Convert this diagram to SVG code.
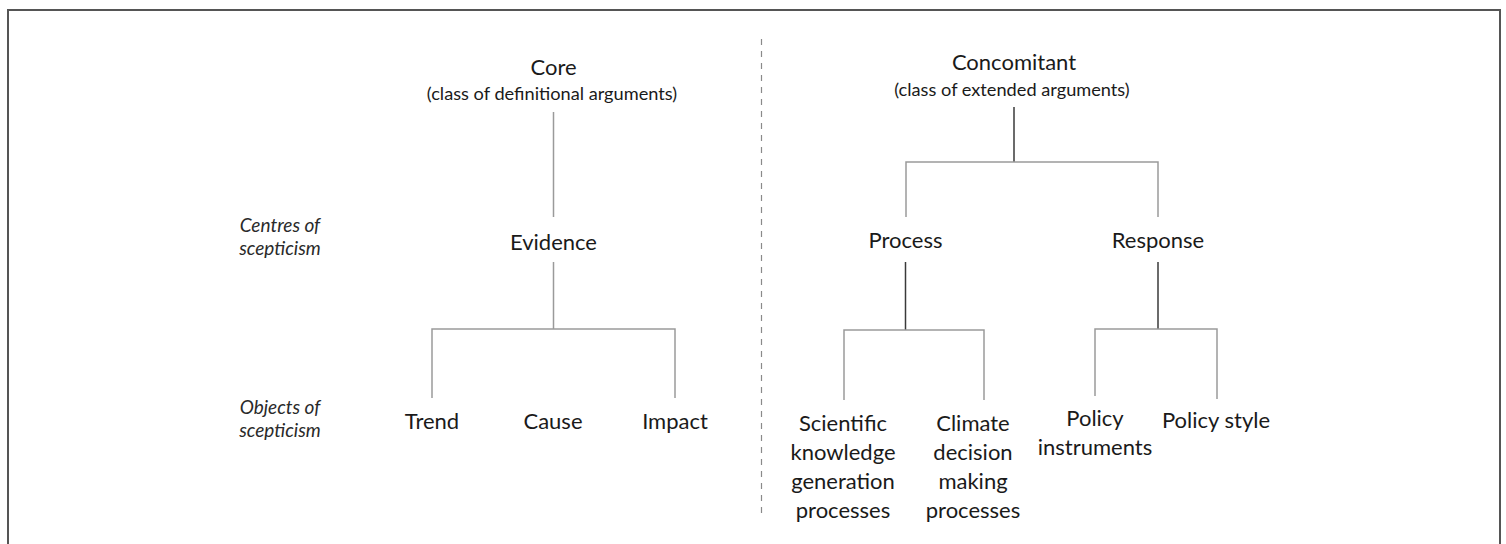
<svg xmlns="http://www.w3.org/2000/svg" width="1506" height="544" viewBox="0 0 1506 544">
<style>
  .t { font-family: "Lato", "Noto Sans", sans-serif; font-size: 22px; fill: #1a1a1a; text-anchor: middle; }
  .s { font-family: "Lato", "Noto Sans", sans-serif; font-size: 18.2px; fill: #1a1a1a; text-anchor: middle; }
  .i { font-family: "Lato", "Noto Sans", sans-serif; font-size: 19px; font-style: italic; fill: #2a2a2a; text-anchor: middle; }
  .lt { stroke: #9a9a9a; stroke-width: 1.5; fill: none; }
  .dk { stroke: #3a3a3a; stroke-width: 1.5; fill: none; }
</style>
<rect x="0" y="0" width="1506" height="544" fill="#ffffff"/>
<path d="M8,560 L8,10 L1500,10 L1500,560" fill="none" stroke="#555555" stroke-width="2"/>
<line x1="761.5" y1="39" x2="761.5" y2="519" stroke="#8a8a8a" stroke-width="1.2" stroke-dasharray="6,6"/>

<g id="connectors">
  <line class="lt" x1="553.5" y1="112" x2="553.5" y2="217"/>
  <line class="lt" x1="553.5" y1="262" x2="553.5" y2="329"/>
  <path class="lt" d="M432,398 L432,329 L675,329 L675,398"/>
  <line class="dk" x1="1014" y1="107" x2="1014" y2="162"/>
  <path class="lt" d="M906,217 L906,162 L1158,162 L1158,217"/>
  <line class="dk" x1="905.5" y1="262" x2="905.5" y2="330"/>
  <path class="lt" d="M844,400 L844,330 L984,330 L984,400"/>
  <line class="dk" x1="1158" y1="262" x2="1158" y2="329"/>
  <path class="lt" d="M1095,396 L1095,329 L1217,329 L1217,399"/>
</g>

<g id="core">
  <text class="t" x="553.5" y="75">Core</text>
  <text class="s" x="552" y="100">(class of definitional arguments)</text>
</g>
<g id="concomitant">
  <text class="t" x="1014" y="70">Concomitant</text>
  <text class="s" x="1012" y="96">(class of extended arguments)</text>
</g>
<g id="centres-label">
  <text class="i" x="280" y="232">Centres of</text>
  <text class="i" x="280" y="255">scepticism</text>
</g>
<g id="objects-label">
  <text class="i" x="280" y="414">Objects of</text>
  <text class="i" x="280" y="437">scepticism</text>
</g>
<g id="evidence"><text class="t" x="553.5" y="250">Evidence</text></g>
<g id="process"><text class="t" x="905.5" y="248">Process</text></g>
<g id="response"><text class="t" x="1158" y="248">Response</text></g>
<g id="trend"><text class="t" x="432" y="429">Trend</text></g>
<g id="cause"><text class="t" x="553" y="429">Cause</text></g>
<g id="impact"><text class="t" x="675" y="429">Impact</text></g>
<g id="scientific">
  <text class="t" x="843" y="431">Scientific</text>
  <text class="t" x="843" y="460">knowledge</text>
  <text class="t" x="843" y="489">generation</text>
  <text class="t" x="843" y="518">processes</text>
</g>
<g id="climate">
  <text class="t" x="973" y="431">Climate</text>
  <text class="t" x="973" y="460">decision</text>
  <text class="t" x="973" y="489">making</text>
  <text class="t" x="973" y="518">processes</text>
</g>
<g id="policy-instruments">
  <text class="t" x="1095" y="426">Policy</text>
  <text class="t" x="1095" y="455">instruments</text>
</g>
<g id="policy-style"><text class="t" x="1216" y="428">Policy style</text></g>
</svg>
